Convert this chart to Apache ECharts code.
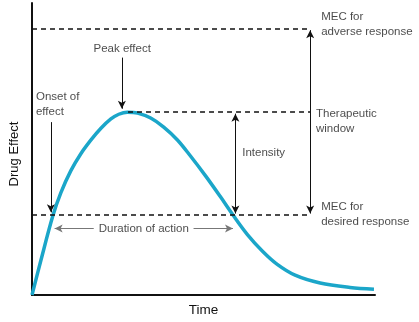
<!DOCTYPE html>
<html>
<head>
<meta charset="utf-8">
<script src="https://cdn.jsdelivr.net/npm/echarts@6/dist/echarts.min.js"></script>
<style>
html,body{margin:0;padding:0;background:#fff;}
#c{width:419px;height:322px;}
</style>
</head>
<body>
<div id="c"></div>
<script>
// Drug effect curve (time in arbitrary units 0-10, effect 0-100)
var timePts   = [0, 0.26, 0.61, 0.84, 1.13, 1.42, 1.72, 2.01, 2.30, 2.53, 2.78, 3.08, 3.46, 3.84, 4.24, 4.62, 5.06, 5.49, 5.87, 6.28, 6.72, 7.15, 7.67, 8.40, 9.27, 9.97];
var effectPts = [0, 11.9, 27.2, 35.0, 42.5, 48.3, 53.1, 57.1, 60.3, 61.9, 62.6, 62.3, 60.6, 57.5, 53.1, 47.6, 40.8, 33.7, 27.2, 20.7, 15.0, 10.5, 6.8, 4.1, 2.6, 2.0];

// reference levels
var mecDesired = 27.4;
var mecAdverse = 91.2;
var peakEffect = 62.6;
var peakTime = 2.8;
var windowTime = 8.11;
var intensityTime = 5.93;

// annotation labels
var labelTexts = ['Peak effect', 'Onset of\neffect', 'MEC for\nadverse response', 'Therapeutic\nwindow', 'Intensity', 'MEC for\ndesired response', 'Duration of action'];
var labelX = [2.63, 0.116, 8.43, 8.28, 6.13, 8.43, 3.26];
var labelY = [84.4, 65.3, 92.7, 59.5, 48.6, 27.6, 22.8];
var labelAlign = ['center', 'left', 'left', 'left', 'left', 'left', 'center'];

var FONT = 'Liberation Sans, Arial, Helvetica, sans-serif';
var curve = timePts.map(function (t, i) { return [t, effectPts[i]]; });

var dashStyle = { color: '#111', width: 1.5, type: [5, 4] };
var arrowStyle = { color: '#111', width: 1, type: 'solid' };
var durStyle = { color: '#777', width: 1, type: 'solid' };

function seg(x1, y1, x2, y2, style, sym) {
  return [
    { coord: [x1, y1], symbol: sym[0], lineStyle: style },
    { coord: [x2, y2], symbol: sym[1] }
  ];
}

var markLines = [
  seg(0, mecAdverse, windowTime, mecAdverse, dashStyle, ['none', 'none']),
  seg(peakTime, peakEffect, windowTime, peakEffect, dashStyle, ['none', 'none']),
  seg(0, mecDesired, windowTime, mecDesired, dashStyle, ['none', 'none']),
  seg(windowTime, mecDesired + 0.5, windowTime, mecAdverse - 0.5, arrowStyle, ['arrow', 'arrow']),
  seg(intensityTime, mecDesired + 0.5, intensityTime, peakEffect - 0.5, arrowStyle, ['arrow', 'arrow']),
  seg(2.62, 81.3, 2.62, 63.8, arrowStyle, ['none', 'arrow']),
  seg(0.55, 59.2, 0.55, 28.3, arrowStyle, ['none', 'arrow']),
  seg(1.80, 22.8, 0.66, 22.8, durStyle, ['none', 'arrow']),
  seg(4.71, 22.8, 5.86, 22.8, durStyle, ['none', 'arrow'])
];

var textData = labelTexts.map(function (s, i) {
  return {
    value: [labelX[i], labelY[i]],
    label: {
      show: true,
      formatter: s,
      position: 'inside',
      align: labelAlign[i],
      verticalAlign: 'middle',
      fontFamily: FONT,
      fontSize: 11.5,
      lineHeight: 14.5,
      color: '#1a1a1a'
    }
  };
});

var chart = echarts.init(document.getElementById('c'));
chart.setOption({
  animation: false,
  backgroundColor: '#fff',
  grid: { left: 31, top: 3, width: 344, height: 294 },
  xAxis: {
    type: 'value', min: 0, max: 10,
    name: 'Time', nameLocation: 'middle', nameGap: 8,
    nameTextStyle: { fontFamily: FONT, fontSize: 13.5, color: '#111' },
    axisLine: { show: true, onZero: false, lineStyle: { color: '#111', width: 2 } },
    axisTick: { show: false }, axisLabel: { show: false }, splitLine: { show: false }
  },
  yAxis: {
    type: 'value', min: 0, max: 100,
    name: 'Drug Effect', nameLocation: 'middle', nameGap: 11,
    nameTextStyle: { fontFamily: FONT, fontSize: 13, color: '#111', padding: [0, 10, 0, 0] },
    axisLine: { show: true, onZero: false, lineStyle: { color: '#111', width: 2 } },
    axisTick: { show: false }, axisLabel: { show: false }, splitLine: { show: false }
  },
  series: [
    {
      type: 'line',
      data: curve,
      smooth: 0.35,
      symbol: 'none',
      lineStyle: { color: '#1ba6c9', width: 3.5 },
      z: 3,
      markLine: {
        silent: true,
        symbolSize: [6, 8],
        label: { show: false },
        emphasis: { disabled: true },
        data: markLines
      }
    },
    {
      type: 'scatter',
      symbolSize: 0,
      silent: true,
      data: textData,
      z: 5
    }
  ]
});
</script>
</body>
</html>
